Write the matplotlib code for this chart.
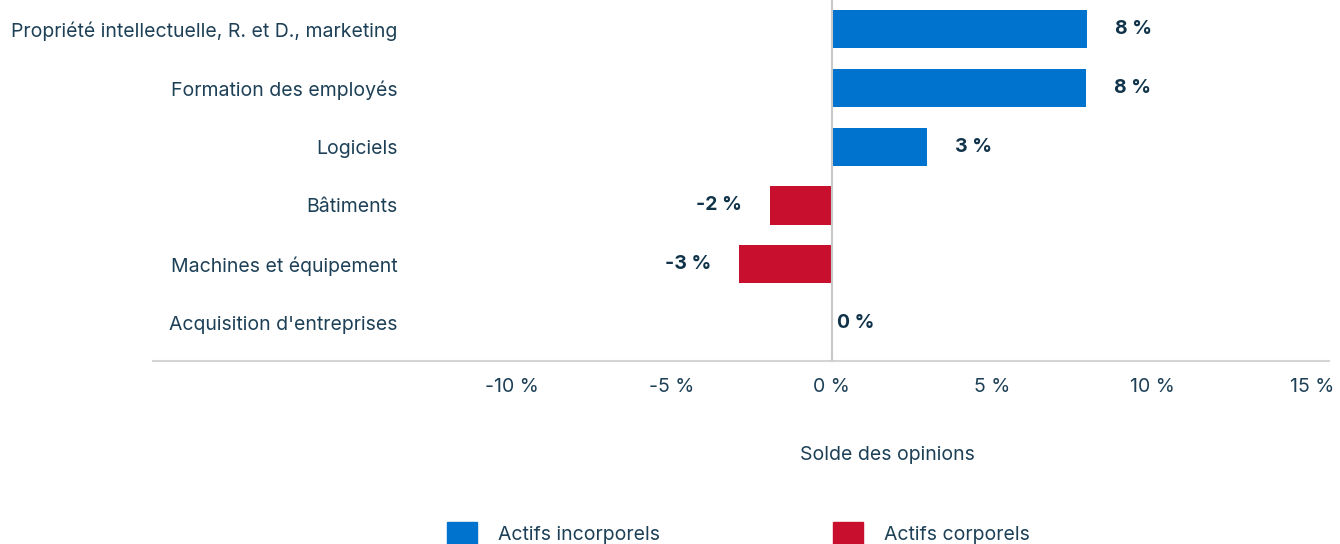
import matplotlib
matplotlib.use("Agg")
import matplotlib.pyplot as plt
from matplotlib.patches import Patch

plt.rcParams['font.family'] = ['Inter', 'DejaVu Sans']

categories = ["Propriété intellectuelle, R. et D., marketing",
              "Formation des employés",
              "Logiciels",
              "Bâtiments",
              "Machines et équipement",
              "Acquisition d'entreprises"]
values = [7.97, 7.94, 2.97, -1.94, -2.9, 0.0]
shown = ["8 %", "8 %", "3 %", "-2 %", "-3 %", "0 %"]
ticks = [-10, -5, 0, 5, 10, 15]
tick_labels = ["-10 %", "-5 %", "0 %", "5 %", "10 %", "15 %"]

blue = "#0073cf"
red = "#c8102e"
txt = "#1d4057"
bold_txt = "#10334a"

fig = plt.figure(figsize=(13.4, 5.44), dpi=100)
ax = fig.add_axes([153 / 1340, 1 - 361 / 544, (1329 - 153) / 1340, 361 / 544])

ypos = list(range(len(categories)))
colors = [blue if v >= 0 else red for v in values]
ax.barh(ypos, values, height=0.65, color=colors, zorder=2)
ax.axvline(0, color="#c8c8c8", lw=1.5, zorder=3)

for y, v, s in zip(ypos, values, shown):
    if v > 0:
        off, ha = 20, "left"
    elif v < 0:
        off, ha = -20, "right"
    else:
        off, ha = 4, "left"
    ax.annotate(s, (v, y), xytext=(off, 0), textcoords="offset points",
                ha=ha, va="center", fontsize=14, fontweight="bold", color=bold_txt)

ax.set_xlim(-21.2, 15.53)
ax.set_ylim(5.65, -0.5)
ax.set_yticks(ypos)
ax.set_yticklabels(categories, fontsize=14, color=txt)
ax.set_xticks(ticks)
ax.set_xticklabels(tick_labels, fontsize=14, color=txt)
ax.tick_params(axis="y", length=0, pad=-176)
ax.tick_params(axis="x", length=0, pad=12)

for side in ["top", "right", "left"]:
    ax.spines[side].set_visible(False)
ax.spines["bottom"].set_color("#d4d4d4")
ax.spines["bottom"].set_linewidth(1.5)

fig.text(887 / 1340, 1 - 455 / 544, "Solde des opinions", ha="center", va="center",
         fontsize=14, color=txt)

leg1 = fig.legend(handles=[Patch(color=blue)], labels=["Actifs incorporels"],
                  loc="upper left", bbox_to_anchor=(429 / 1340, 1 - 504 / 544),
                  frameon=False, fontsize=14, handlelength=1.55, handleheight=1.55,
                  handletextpad=1.1, labelcolor=txt)
leg2 = fig.legend(handles=[Patch(color=red)], labels=["Actifs corporels"],
                  loc="upper left", bbox_to_anchor=(815 / 1340, 1 - 504 / 544),
                  frameon=False, fontsize=14, handlelength=1.55, handleheight=1.55,
                  handletextpad=1.1, labelcolor=txt)

fig.savefig("out.png", dpi=100)
